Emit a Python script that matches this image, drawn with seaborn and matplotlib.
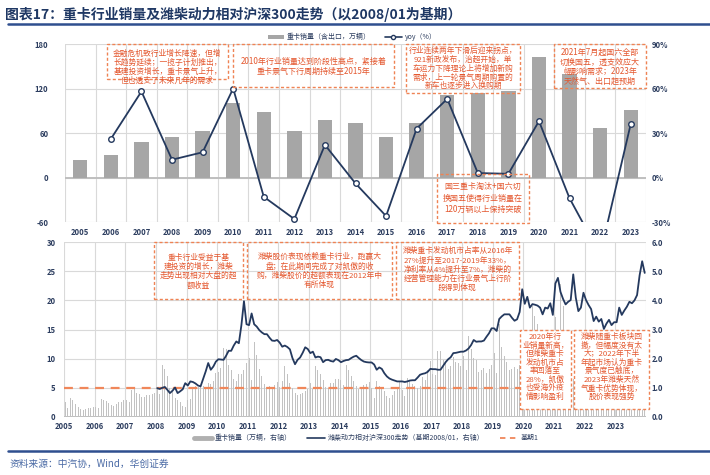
import numpy as np
import pandas as pd
import matplotlib
matplotlib.use("Agg")
import matplotlib.pyplot as plt
import seaborn as sns
from matplotlib.patches import Rectangle, Patch
from matplotlib.lines import Line2D

# ---------------- data ----------------
years = [str(y) for y in range(2005, 2024)]
annual_sales = [24, 30, 48, 54, 63, 101, 88, 63, 77, 74, 55, 73, 111, 114, 117, 162, 139, 67, 91]
yoy_years = years[1:]
yoy = [26, 58, 12, 17, 60, -13, -28, 22, -4, -26, 33, 53, 3, 2.5, 38, -14, -52, 36]

# monthly heavy-truck sales (万辆), 2005-01 .. 2023-12
monthly_sales = [
    2.6, 1.5, 3.2, 2.9, 2.3, 1.8, 1.3, 1.2, 1.4, 1.5, 1.6, 1.7,      # 2005
    1.8, 1.6, 3.1, 3.0, 2.7, 2.4, 2.0, 1.9, 2.3, 2.5, 2.6, 2.9,      # 2006
    2.9, 2.5, 4.6, 4.8, 4.2, 4.0, 3.5, 3.4, 3.8, 3.8, 4.0, 4.1,      # 2007
    5.0, 3.9, 8.9, 8.2, 7.0, 5.0, 4.3, 3.2, 3.0, 2.6, 1.9, 1.8,      # 2008
    2.9, 3.1, 5.0, 5.4, 5.2, 5.5, 5.3, 5.0, 5.8, 5.7, 6.1, 7.6,      # 2009
    7.8, 8.4, 11.8, 11.6, 8.9, 8.0, 6.5, 6.2, 7.4, 7.3, 8.1, 9.2,    # 2010
    10.1, 6.3, 12.9, 10.6, 8.2, 7.0, 5.6, 5.2, 5.3, 5.0, 5.5, 6.0,   # 2011
    5.2, 6.2, 8.7, 7.3, 5.8, 5.0, 4.2, 3.8, 4.0, 4.2, 4.5, 4.8,      # 2012
    5.8, 4.8, 8.7, 8.1, 7.4, 6.3, 5.2, 5.0, 5.8, 5.9, 6.6, 6.6,      # 2013
    6.4, 5.5, 8.9, 8.0, 7.0, 6.2, 5.4, 4.8, 5.0, 5.5, 5.6, 6.0,      # 2014
    5.0, 3.3, 6.1, 5.3, 4.8, 4.5, 3.6, 3.3, 3.7, 4.5, 5.0, 6.0,      # 2015
    4.6, 3.6, 6.7, 6.3, 5.6, 5.3, 5.0, 5.4, 6.8, 6.3, 8.1, 9.6,      # 2016
    7.4, 7.2, 11.4, 11.3, 9.8, 9.3, 8.2, 8.8, 10.3, 9.5, 9.2, 8.8,   # 2017
    10.4, 8.0, 13.9, 11.6, 10.2, 9.8, 7.8, 8.1, 8.4, 7.6, 8.3, 9.0,  # 2018
    11.0, 7.6, 15.9, 12.0, 10.5, 9.5, 8.1, 8.3, 8.5, 8.3, 9.0, 8.8,  # 2019
    8.2, 4.0, 14.9, 19.0, 17.3, 15.9, 13.7, 12.9, 13.4, 12.5, 13.5, 14.6,  # 2020
    17.2, 12.6, 22.8, 19.0, 14.7, 11.0, 7.8, 6.5, 6.8, 6.0, 6.8, 7.8,      # 2021
    9.3, 5.4, 8.6, 5.1, 4.6, 4.5, 3.3, 4.1, 5.1, 4.6, 4.6, 5.3,      # 2022
    5.0, 7.5, 12.0, 8.5, 7.5, 7.6, 6.9, 7.5, 7.8, 7.5, 6.9, 6.7,     # 2023
]

# Weichai relative to CSI300 (2008/01 = 1), 2008-01 .. 2023-12
weichai_rel = [
    0.99, 0.96, 1.00, 1.03, 0.93, 0.82, 0.90, 1.01, 0.82, 0.88, 0.95, 1.16,  # 2008
    1.08, 1.22, 1.20, 1.15, 1.08, 1.05, 1.30, 1.56, 1.85, 1.62, 1.73, 1.90,  # 2009
    1.98, 1.97, 1.96, 2.10, 2.27, 2.27, 2.45, 2.59, 2.53, 3.15, 3.97, 3.18,  # 2010
    3.15, 3.55, 3.18, 3.10, 2.98, 2.90, 2.84, 2.84, 2.72, 2.62, 2.61, 2.64,  # 2011
    2.55, 2.41, 2.45, 2.40, 2.32, 2.02, 1.81, 1.96, 2.04, 2.20, 2.39, 2.33,  # 2012
    2.19, 2.24, 2.04, 2.07, 2.05, 1.88, 1.95, 1.96, 1.92, 1.90, 1.99, 1.95,  # 2013
    1.88, 1.92, 1.95, 1.96, 2.02, 2.07, 2.10, 2.02, 1.95, 1.90, 1.88, 1.87,  # 2014
    1.87, 1.80, 1.62, 1.70, 1.65, 1.50, 1.39, 1.32, 1.28, 1.25, 1.22, 1.22,  # 2015
    1.22, 1.20, 1.22, 1.25, 1.26, 1.26, 1.35, 1.45, 1.48, 1.50, 1.55, 1.65,  # 2016
    1.64, 1.64, 1.62, 1.62, 1.75, 1.88, 1.98, 2.05, 2.19, 2.20, 2.22, 2.24,  # 2017
    2.24, 2.28, 2.35, 2.47, 2.64, 2.58, 2.59, 2.59, 2.62, 2.75, 2.87, 3.04,  # 2018
    3.04, 2.95, 3.36, 3.45, 3.52, 3.52, 3.52, 3.40, 3.30, 3.35, 3.60, 4.38,  # 2019
    3.88, 4.12, 3.75, 3.87, 3.85, 3.82, 3.75, 3.52, 3.75, 3.72, 3.90, 3.50,  # 2020
    4.58, 4.77, 4.29, 4.05, 3.86, 3.95, 4.01, 4.89, 4.09, 3.63, 3.75, 4.26,  # 2021
    4.01, 3.84, 3.70, 3.29, 3.44, 3.27, 3.36, 3.02, 3.20, 3.33, 3.15, 3.25,  # 2022
    3.25, 3.75, 3.50, 3.65, 3.78, 3.95, 3.90, 4.00, 4.18, 4.86, 5.34, 4.94,  # 2023
]
base_value = 1.0

left_ticks_top = [-60, 0, 60, 120, 180]
right_ticks_top = [-30, 0, 30, 60, 90]
left_ticks_bot = [0, 5, 10, 15, 20, 25, 30]
right_ticks_bot = [0, 1, 2, 3, 4, 5, 6]

# ---------------- style ----------------
sns.set_theme(style="white")
plt.rcParams["font.family"] = ["Noto Sans CJK SC", "DejaVu Sans"]
plt.rcParams["axes.unicode_minus"] = False

NAVY = "#24395e"
TICK = "#2c3d5f"
GRID = "#d9d9d9"
BAR = "#a6a6a6"
ORANGE_T = "#e4572e"
ORANGE_B = "#ef8354"

W, H = 710, 475
fig = plt.figure(figsize=(W / 100, H / 100), dpi=100)
fig.patch.set_facecolor("white")


def fx(x):
    return x / W


def fy(y):
    return 1 - y / H


def style_ticks(ax, labelsize=5.5):
    for lbl in ax.get_xticklabels() + ax.get_yticklabels():
        lbl.set_fontweight("bold")
        lbl.set_color(TICK)
        lbl.set_fontsize(labelsize)


# ---------------- top chart ----------------
ax1 = fig.add_axes([fx(65), fy(222), (646 - 65) / W, (222 - 44) / H])
df_top = pd.DataFrame({"year": years, "sales": annual_sales})
sns.barplot(data=df_top, x="year", y="sales", color=BAR, width=0.47,
            saturation=1, ax=ax1, zorder=3, edgecolor="none", linewidth=0)
ax1.set_xlim(-0.5, len(years) - 0.5)
ax1.set_ylim(-60, 180)
ax1.set_yticks(left_ticks_top)
for t in left_ticks_top:
    ax1.axhline(t, color=GRID, lw=0.8, zorder=0)
for b in np.arange(-0.5, len(years), 1.0):
    ax1.axvline(b, color=GRID, lw=0.8, zorder=0)
ax1.axhline(0, color="#bfbfbf", lw=1.4, zorder=1)
ax1.set_xlabel("")
ax1.set_ylabel("")
for s in ax1.spines.values():
    s.set_visible(False)
ax1.tick_params(axis="x", length=0, pad=4.5)
ax1.tick_params(axis="y", length=0, pad=12)

ax1r = ax1.twinx()
yoy_pos = [years.index(y) for y in yoy_years]
sns.lineplot(x=yoy_pos, y=yoy, ax=ax1r, color=NAVY, lw=1.3, marker="o",
             markersize=4, markerfacecolor="white", markeredgecolor=NAVY,
             markeredgewidth=1.0, zorder=4)
ax1r.set_ylim(-30, 90)
ax1r.set_yticks(right_ticks_top)
ax1r.set_yticklabels([f"{v}%" for v in right_ticks_top])
ax1r.set_xlim(-0.5, len(years) - 0.5)
ax1r.set_ylabel("")
for s in ax1r.spines.values():
    s.set_visible(False)
ax1r.tick_params(axis="y", length=0, pad=4)
ax1r.grid(False)
style_ticks(ax1)
style_ticks(ax1r)

# top legend
h_top = [Patch(facecolor=BAR, edgecolor="none"),
         Line2D([0], [0], color=NAVY, lw=1.2, marker="o", markersize=3,
                markerfacecolor="white", markeredgecolor=NAVY)]
leg1 = fig.legend(h_top, ["重卡销量（含出口，万辆）", "yoy（%）"],
                  loc="center", bbox_to_anchor=(fx(352), fy(37)), ncol=2,
                  frameon=False, fontsize=5, handlelength=2.4, handleheight=0.5,
                  columnspacing=2.0, handletextpad=0.4)
for t in leg1.get_texts():
    t.set_color(TICK)

# ---------------- bottom chart ----------------
ax2 = fig.add_axes([fx(64), fy(417), (646 - 64) / W, (417 - 242) / H])
n_months = len(monthly_sales)
month_idx = np.arange(n_months)
sns.barplot(x=month_idx, y=monthly_sales, color="#c2c2c2", width=0.4,
            saturation=1, native_scale=True, ax=ax2, zorder=2,
            edgecolor="none", linewidth=0)
ax2.set_ylim(0, 30)
ax2.set_yticks(left_ticks_bot)
for t in left_ticks_bot[1:]:
    ax2.axhline(t, color=GRID, lw=0.8, zorder=0)
year_starts = np.arange(0, n_months, 12) - 0.5
for b in list(year_starts) + [n_months - 0.5]:
    ax2.axvline(b, color=GRID, lw=0.8, zorder=0)
ax2.axhline(0, color="#bfbfbf", lw=1.4, zorder=1)
ax2.set_xticks(year_starts)
ax2.set_xticklabels(years)
ax2.set_xlabel("")
ax2.set_ylabel("")
for s in ax2.spines.values():
    s.set_visible(False)
ax2.tick_params(axis="x", length=0, pad=3.5)
ax2.tick_params(axis="y", length=0, pad=6)

ax2r = ax2.twinx()
line_idx = np.arange(n_months - len(weichai_rel), n_months)
ax2r.axhline(base_value, color="#f0875a", lw=1.6, ls=(0, (4, 3)), zorder=2)
sns.lineplot(x=line_idx, y=weichai_rel, ax=ax2r, color=NAVY, lw=1.3, zorder=3)
ax2r.set_ylim(0, 6)
ax2r.set_yticks(right_ticks_bot)
ax2r.set_yticklabels([f"{v:.1f}" for v in right_ticks_bot])
ax2r.set_ylabel("")
ax2r.grid(False)
for s in ax2r.spines.values():
    s.set_visible(False)
ax2r.tick_params(axis="y", length=0, pad=4)
ax2.set_xlim(-0.5, n_months - 0.5)
ax2r.set_xlim(-0.5, n_months - 0.5)
style_ticks(ax2)
style_ticks(ax2r)

# bottom legend
h_bot = [Line2D([0], [0], color="#b0b0b0", lw=3.5),
         Line2D([0], [0], color=NAVY, lw=1.2),
         Line2D([0], [0], color="#f0875a", lw=1.3, ls=(0, (3, 2.5)))]
leg2 = fig.legend(h_bot, ["重卡销量（万辆，右轴）", "潍柴动力相对沪深300走势（基期2008/01，右轴）", "基期1"],
                  loc="center", bbox_to_anchor=(fx(366), fy(438)), ncol=3,
                  frameon=False, fontsize=5, handlelength=2.6,
                  columnspacing=2.2, handletextpad=0.4)
for t in leg2.get_texts():
    t.set_color(TICK)


# ---------------- annotations ----------------
def note(x0, y0, x1, y1, lines, cy, fs=5.6, fill=False, ls=1.1):
    rect = Rectangle((fx(x0), fy(y1)), (x1 - x0) / W, (y1 - y0) / H,
                     transform=fig.transFigure, fill=fill, facecolor="white",
                     edgecolor=ORANGE_B, lw=1.0, ls=(0, (2.2, 1.6)), zorder=5)
    fig.add_artist(rect)
    fig.text(fx((x0 + x1) / 2), fy(cy), "\n".join(lines),
             ha="center", va="center", fontsize=fs, color=ORANGE_T,
             linespacing=ls, zorder=6)


note(107, 44, 228, 79, ["金融危机致行业增长降速，但增",
                        "长趋势延续；一揽子计划推出，",
                        "基建投资增长，重卡景气上升，",
                        "但也透支了未来几年的需求"], cy=67)
note(233, 44, 394, 87, ["2010年行业销量达到阶段性高点，紧接着",
                        "重卡景气下行周期持续至2015年"], cy=66, fs=5.8, ls=1.15)
note(406, 44, 520, 93, ["行业连续两年下滑后迎来拐点，",
                        "921新政发布，治超开始，单",
                        "车运力下降理论上将增加新购",
                        "需求，上一轮景气周期购置的",
                        "新车也逐步进入换购期"], cy=68.7)
note(554, 44, 646, 88, ["2021年7月起国六全部",
                        "切换国五，透支效应大",
                        "幅影响需求；2023年",
                        "天然气、出口超预期"], cy=67, fs=5.8)
note(437, 174, 529, 223, ["国三重卡淘汰+国六切",
                          "换国五使得行业销量在",
                          "120万辆以上保持突破"], cy=198, fs=5.8, ls=1.35)

note(154, 242, 243, 299, ["重卡行业受益于基",
                          "建投资的增长，潍柴",
                          "走势出现相对大盘的超",
                          "额收益"], cy=271.5, ls=1.17)
note(247, 242, 392, 299, ["潍柴股价表现依赖重卡行业，跑赢大",
                          "盘；在此期间完成了对凯傲的收",
                          "购，潍柴股价的超额表现在2012年中",
                          "有所体现"], cy=271, ls=1.17)
note(396, 242, 519, 299, ["潍柴重卡发动机市占率从2016年",
                          "27%提升至2017-2019年33%，",
                          "净利率从4%提升至7%，潍柴的",
                          "经营管理能力在行业景气上行阶",
                          "段得到体现"], cy=269.6, ls=1.17)
note(520, 330, 571, 409, ["2020年行",
                          "业销量新高，",
                          "但潍柴重卡",
                          "发动机市占",
                          "率回落至",
                          "28%，凯傲",
                          "也受海外疫",
                          "情影响盈利"], cy=367, fill=True, ls=1.07)
note(574, 330, 649, 409, ["潍柴随重卡板块回",
                          "撤，但幅度没有太",
                          "大；2022年下半",
                          "年起市场认为重卡",
                          "景气度已触底，",
                          "2023年潍柴天然",
                          "气重卡优势体现，",
                          "股价表现强势"], cy=367, fill=True, ls=1.07)

# ---------------- title / frame lines / source ----------------
fig.text(fx(5), fy(15), "图表17：重卡行业销量及潍柴动力相对沪深300走势（以2008/01为基期）",
         fontsize=10, fontweight="bold", color="#1f3864", va="center", ha="left")
fig.add_artist(Line2D([fx(8), fx(710)], [fy(24), fy(24)], color="#2f4f8f", lw=1.8,
                      transform=fig.transFigure))
fig.add_artist(Line2D([fx(8), fx(710)], [fy(451), fy(451)], color="#2f4f8f", lw=1.8,
                      transform=fig.transFigure))
fig.text(fx(10), fy(464), "资料来源：中汽协，Wind，华创证券", fontsize=7,
         color="#4a6aa5", style="italic", va="center", ha="left")

fig.savefig("out.png", dpi=100, facecolor="white")
